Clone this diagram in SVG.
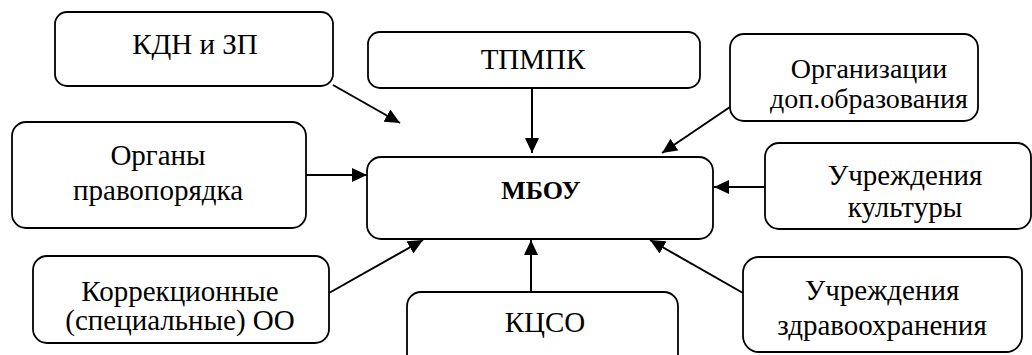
<svg xmlns="http://www.w3.org/2000/svg" width="1032" height="355" viewBox="0 0 1032 355">
<style>
.box{fill:#fff;stroke:#000;stroke-width:1.8}
text{font-family:'Liberation Serif','Times New Roman',serif;font-size:29px;fill:#000;text-anchor:middle}
.b{font-weight:bold;font-size:26px}
.s{font-size:28px}
.c{stroke:#000;stroke-width:2;fill:none;marker-end:url(#ah)}
</style>
<defs>
<marker id="ah" markerUnits="userSpaceOnUse" markerWidth="16" markerHeight="14" refX="15" refY="7" orient="auto">
<path d="M0,0 L15,7 L0,14 Z" fill="#000"/>
</marker>
</defs>
<rect width="1032" height="355" fill="#fff"/>
<g id="connectors">
<line class="c" x1="333" y1="85" x2="400" y2="123"/>
<line class="c" x1="532" y1="88" x2="532" y2="153"/>
<line class="c" x1="730" y1="107" x2="662" y2="153"/>
<line class="c" x1="306" y1="175" x2="367" y2="175"/>
<line class="c" x1="765" y1="187" x2="714" y2="187"/>
<line class="c" x1="329" y1="293" x2="423" y2="240"/>
<line class="c" x1="531" y1="292" x2="531" y2="240"/>
<line class="c" x1="743" y1="293" x2="650" y2="240"/>
</g>
<g id="kdn">
<rect class="box" x="55" y="12" width="278" height="74" rx="12"/>
<text x="195" y="54">КДН и ЗП</text>
</g>
<g id="tpmpk">
<rect class="box" x="368" y="32" width="332" height="56" rx="12"/>
<text x="533" y="69">ТПМПК</text>
</g>
<g id="org-dop">
<rect class="box" x="730" y="34" width="248" height="87" rx="14"/>
<text class="s" x="869" y="78">Организации</text>
<text class="s" x="869" y="108">доп.образования</text>
</g>
<g id="pravo">
<rect class="box" x="12" y="122" width="294" height="106" rx="14"/>
<text x="158" y="165">Органы</text>
<text x="158" y="200">правопорядка</text>
</g>
<g id="mbou">
<rect class="box" x="367" y="157" width="346" height="82" rx="14"/>
<text class="b" x="541" y="199">МБОУ</text>
</g>
<g id="kultura">
<rect class="box" x="765" y="143" width="266" height="86" rx="14"/>
<text x="905" y="185">Учреждения</text>
<text x="905" y="217">культуры</text>
</g>
<g id="korr">
<rect class="box" x="33" y="256" width="296" height="87" rx="14"/>
<text x="180" y="301">Коррекционные</text>
<text x="180" y="330">(специальные) ОО</text>
</g>
<g id="kcso">
<rect class="box" x="407" y="292" width="271" height="80" rx="14"/>
<text x="545" y="332">КЦСО</text>
</g>
<g id="zdrav">
<rect class="box" x="743" y="257" width="279" height="95" rx="16"/>
<text x="882" y="300">Учреждения</text>
<text x="882" y="335">здравоохранения</text>
</g>
</svg>
